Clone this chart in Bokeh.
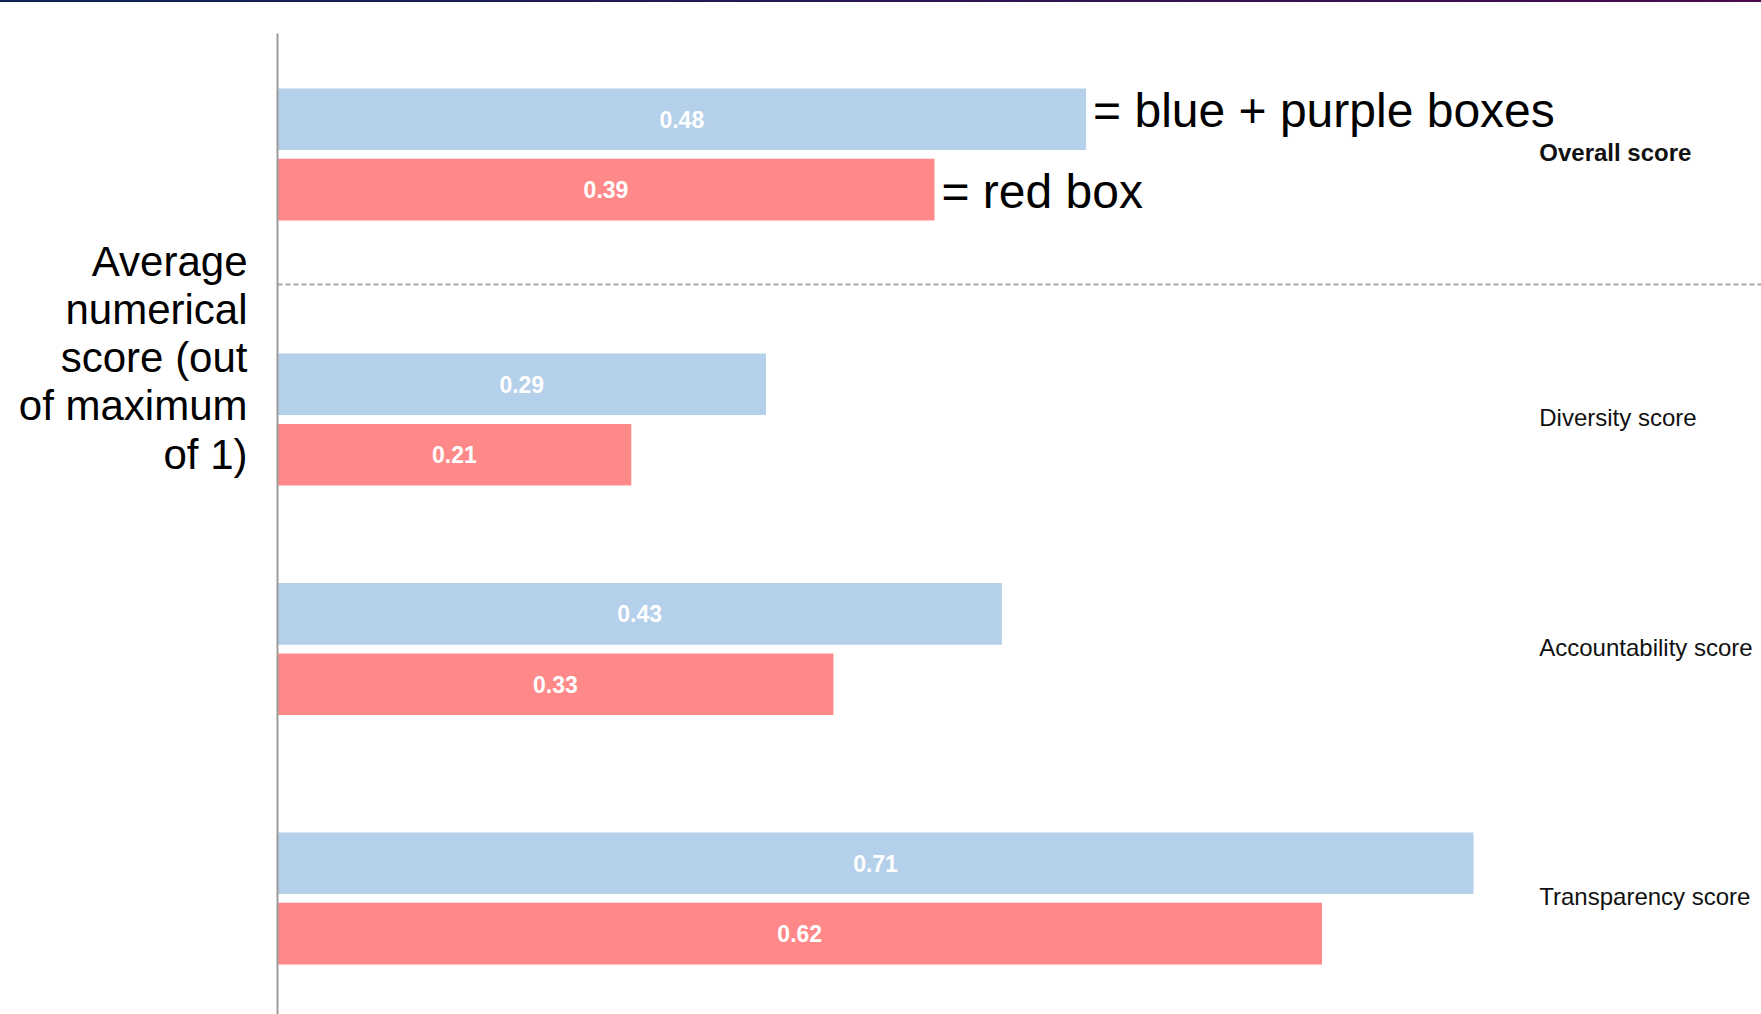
from bokeh.plotting import figure
from bokeh.models import Range1d, Div, ColumnDataSource
from bokeh.layouts import column
from bokeh.embed import file_html
from bokeh.resources import INLINE
from bokeh.core.properties import value

# ---- data -------------------------------------------------------------
categories = ["Overall score", "Diversity score", "Accountability score", "Transparency score"]
blue_scores = [0.48, 0.29, 0.43, 0.71]
red_scores = [0.39, 0.21, 0.33, 0.62]
axis_label_lines = ["Average", "numerical", "score (out", "of maximum", "of 1)"]
blue_note = "= blue + purple boxes"
red_note = "= red box"

# ---- layout (y measured in pixel rows from the top of the page) --------
W, H = 1761, 1014
STRIP_H = 2
ZERO_PX = 277            # horizontal position of the zero line
PX_PER_UNIT = 1684.6     # pixels per score unit
row_centres = [153.9, 419.0, 648.6, 897.9]
category_styles = ["bold", "normal", "normal", "normal"]
cat_label_shift = -2     # optical centring of the right-hand names
bar_offset = 35.2
bar_h = 61.6
divider_y = 284
axis_top = 33

BLUE = "#b4d0ea"
RED = "#ff8989"
FONT = "Liberation Sans"

x_start = -ZERO_PX / PX_PER_UNIT
x_end = (W - ZERO_PX) / PX_PER_UNIT
px = 1.0 / PX_PER_UNIT

blue_y = [c - bar_offset for c in row_centres]
red_y = [c + bar_offset for c in row_centres]

p = figure(width=W, height=H - STRIP_H,
           x_range=Range1d(x_start, x_end), y_range=Range1d(H, STRIP_H),
           output_backend="svg", toolbar_location=None, min_border=0,
           background_fill_color="white", border_fill_color="white")
p.axis.visible = False
p.grid.visible = False
p.outline_line_color = None

blue_src = ColumnDataSource(dict(y=blue_y, right=blue_scores,
                                 mid=[v / 2 for v in blue_scores],
                                 label=[f"{v:.2f}" for v in blue_scores]))
red_src = ColumnDataSource(dict(y=red_y, right=red_scores,
                                mid=[v / 2 for v in red_scores],
                                label=[f"{v:.2f}" for v in red_scores]))

p.hbar(y="y", left=0, right="right", height=bar_h, source=blue_src,
       fill_color=BLUE, line_color=None)
p.hbar(y="y", left=0, right="right", height=bar_h, source=red_src,
       fill_color=RED, line_color=None)

for src in (blue_src, red_src):
    p.text(x="mid", y="y", text="label", source=src,
           text_align="center", text_baseline="middle",
           text_font=value(FONT), text_font_style="bold",
           text_font_size="23px", text_color="white")

# separator between the overall score and its components
p.segment(x0=[0], y0=[divider_y], x1=[x_end], y1=[divider_y],
          line_color="#a8a8a8", line_width=2, line_dash="5 3")

# vertical zero line
p.segment(x0=[0], y0=[axis_top], x1=[0], y1=[H],
          line_color="#9c9c9c", line_width=2)

# category names on the right
cat_src = ColumnDataSource(dict(x=[0.749] * len(categories),
                                y=[c + cat_label_shift for c in row_centres],
                                text=categories, style=category_styles))
p.text(x="x", y="y", text="text", source=cat_src,
       text_align="left", text_baseline="middle",
       text_font=value(FONT), text_font_style="style",
       text_font_size="24px", text_color="#111111")

# notes beside the overall bars
p.text(x=[blue_scores[0] + 7 * px], y=[blue_y[0] - 9], text=[blue_note],
       text_align="left", text_baseline="alphabetic",
       text_font=value(FONT), text_font_size="48px", text_color="#000000")
p.text(x=[red_scores[0] + 7 * px], y=[red_y[0] + 2], text=[red_note],
       text_align="left", text_baseline="alphabetic",
       text_font=value(FONT), text_font_size="48px", text_color="#000000")

# axis description on the left
line_h = 48.3
label_mid = 357.1
n = len(axis_label_lines)
label_y = [label_mid + (i - (n - 1) / 2) * line_h for i in range(n)]
p.text(x=[-30 * px] * n, y=label_y, text=axis_label_lines,
       text_align="right", text_baseline="middle",
       text_font=value(FONT), text_font_size="42px", text_color="#000000")

strip = Div(text="", width=W, height=STRIP_H, margin=(0, 0, 0, 0),
            styles={"background": "linear-gradient(to right, #0a2352, #4a0a50)",
                    "overflow": "hidden"})

layout = column(strip, p, spacing=0, margin=(0, 0, 0, 0))

open("out.html", "w").write(file_html(layout, INLINE))
